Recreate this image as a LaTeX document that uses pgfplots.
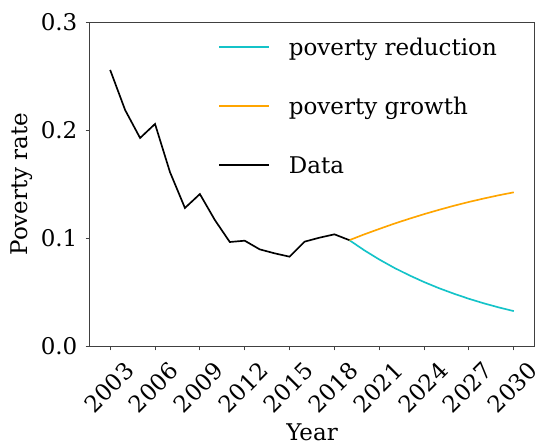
\documentclass[border=0pt]{standalone}
\usepackage{fontspec}
\setmainfont{DejaVu Serif}
\usepackage{pgfplots}
\pgfplotsset{compat=1.18}
\definecolor{mcyan}{RGB}{20,195,200}
\definecolor{morange}{RGB}{255,165,0}
\begin{document}
\fontsize{17.25}{20}\selectfont
\begin{tikzpicture}
\begin{axis}[
  scale only axis,
  width=333pt, height=243pt,
  xmin=2001.65, xmax=2031.35,
  ymin=0, ymax=0.3,
  xtick={2003,2006,2009,2012,2015,2018,2021,2024,2027,2030},
  ytick={0,0.1,0.2,0.3},
  xtick pos=left, ytick pos=left,
  tick align=outside,
  major tick length=3.3pt,
  axis line style={black!75, line width=0.75pt},
  every tick/.style={black!75, line width=0.75pt},
  /pgf/number format/assume math mode=true,
  xticklabel style={/pgf/number format/1000 sep={}, yshift=-27.75pt, xshift=-1pt, rotate=45, anchor=center, inner sep=0pt},
  yticklabel style={/pgf/number format/fixed, /pgf/number format/fixed zerofill, /pgf/number format/precision=1, anchor=east, inner sep=0pt, xshift=-6pt},
  xlabel={Year},
  ylabel={Poverty rate},
  xlabel style={at={(axis description cs:0.5,-0.2654)}, anchor=center, inner sep=0pt},
  ylabel style={at={(axis description cs:-0.1544,0.5)}, anchor=center, inner sep=0pt},
  legend style={draw=none, fill=none, at={(rel axis cs:0.288,0.9515)}, anchor=north west, inner sep=0pt,
    row sep=27.4pt, column sep=14.25pt,
    nodes={inner sep=0pt, text height=13pt, text depth=4pt, anchor=base west}},
  legend cell align=left,
  legend image code/.code={\draw[#1, line width=1.3pt] (0pt,6.4pt) -- (37.5pt,6.4pt);},
  clip=false,
]
\addplot[mcyan, line width=1.25pt] coordinates {
(2019,0.098) (2020,0.0886) (2021,0.0801) (2022,0.0724) (2023,0.0655) (2024,0.0592)
(2025,0.0535) (2026,0.0484) (2027,0.0437) (2028,0.0395) (2029,0.0357) (2030,0.0323)};
\addlegendentry{poverty reduction}
\addplot[morange, line width=1.25pt] coordinates {
(2019,0.098) (2020,0.1034) (2021,0.1084) (2022,0.1133) (2023,0.1178) (2024,0.1221)
(2025,0.1261) (2026,0.1299) (2027,0.1334) (2028,0.1366) (2029,0.1396) (2030,0.1423)};
\addlegendentry{poverty growth}
\addplot[black, line width=1.25pt] coordinates {
(2003,0.2556) (2004,0.2185) (2005,0.1926) (2006,0.2056) (2007,0.161) (2008,0.1278)
(2009,0.1407) (2010,0.1167) (2011,0.0963) (2012,0.0975) (2013,0.0895) (2014,0.0858)
(2015,0.0827) (2016,0.0966) (2017,0.1003) (2018,0.1034) (2019,0.098)};
\addlegendentry{Data}
\coordinate (BL) at (rel axis cs:0,0);
\coordinate (TR) at (rel axis cs:1,1);
\end{axis}
\pgfresetboundingbox
\path[use as bounding box] ([xshift=-67.5pt,yshift=-72.75pt]BL) rectangle ([xshift=0.75pt,yshift=16.5pt]TR);
\end{tikzpicture}
\end{document}
